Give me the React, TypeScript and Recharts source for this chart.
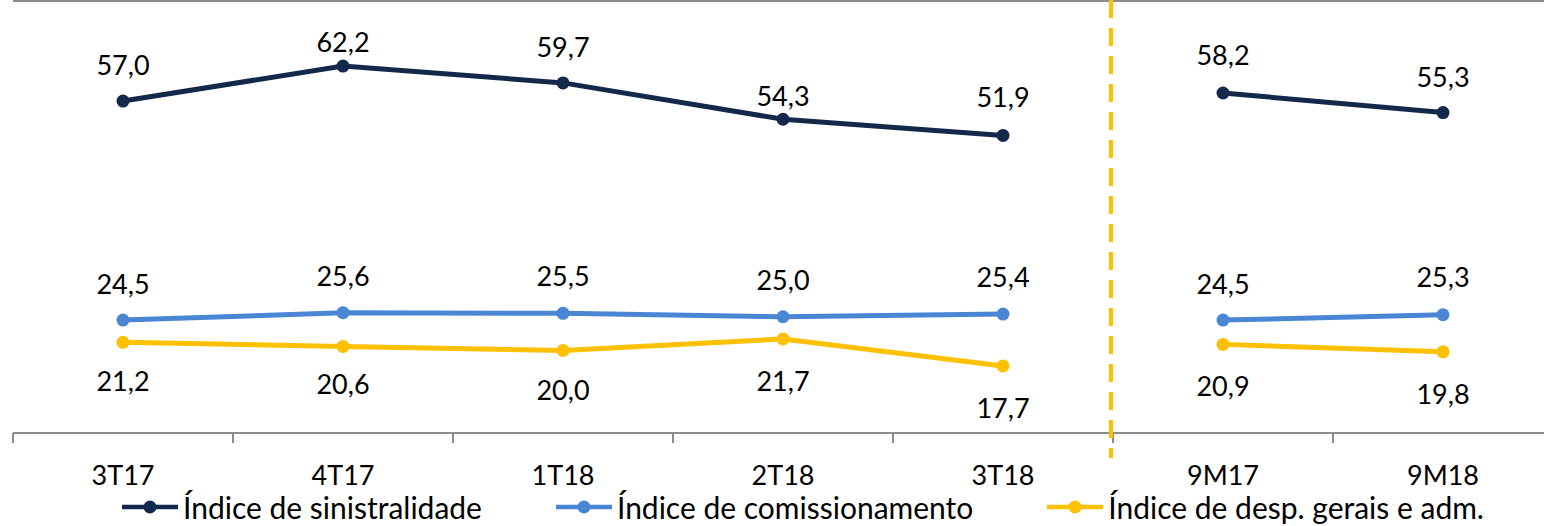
import React from "react";
import { LineChart, Line, XAxis, YAxis, LabelList, Legend, ReferenceLine } from "recharts";

const periods = ["3T17", "4T17", "1T18", "2T18", "3T18", "9M17", "9M18"];
const periodGroup = ["tri", "tri", "tri", "tri", "tri", "acum", "acum"];
const sinistralidade = [57.0, 62.2, 59.7, 54.3, 51.9, 58.2, 55.3];
const comissionamento = [24.5, 25.6, 25.5, 25.0, 25.4, 24.5, 25.3];
const despGerais = [21.2, 20.6, 20.0, 21.7, 17.7, 20.9, 19.8];

const Y_MIN = 7.75;
const Y_MAX = 71.85;
const FONT = "Lato, 'Open Sans', sans-serif";
const AXIS_GRAY = "#8c8c8c";
const BAND = 220;

const series = [
  {
    key: "sin",
    name: "Índice de sinistralidade",
    values: sinistralidade,
    color: "#13294b",
    // label baseline offset from the dot (negative = above)
    labelShift: [-26, -14, -26, -13, -28, -28, -26],
  },
  {
    key: "com",
    name: "Índice de comissionamento",
    values: comissionamento,
    color: "#4a86d4",
    labelShift: [-26, -27, -27, -27, -27, -26, -28],
  },
  {
    key: "desp",
    name: "Índice de desp. gerais e adm.",
    values: despGerais,
    color: "#ffc000",
    labelShift: [49, 48, 50, 52, 52, 52, 52],
  },
];

const data = periods.map((period, i) => {
  const row: Record<string, string | number | null> = { period };
  series.forEach((s) => {
    row[`${s.key}_tri`] = periodGroup[i] === "tri" ? s.values[i] : null;
    row[`${s.key}_acum`] = periodGroup[i] === "acum" ? s.values[i] : null;
  });
  return row;
});

const fmt = (v: number) => v.toFixed(1).replace(".", ",");

const makeLabel = (shift: number[]) => (props: any) => {
  const { value, index } = props;
  if (value == null) return null;
  const x = props.viewBox?.x ?? props.x;
  const y = props.viewBox?.y ?? props.y;
  if (x == null || y == null) return null;
  return (
    <text
      key={`lbl-${index}`}
      x={x}
      y={y + shift[index]}
      textAnchor="middle"
      fontFamily={FONT}
      fontSize={27}
      fill="#000"
    >
      {fmt(Number(value))}
    </text>
  );
};

const PeriodTick = (props: any) => {
  const { x, y, payload } = props;
  const left = x - BAND / 2;
  return (
    <g>
      <line x1={left} y1={y} x2={left} y2={y + 10} stroke={AXIS_GRAY} strokeWidth={2} />
      {payload.index === 5 && (
        <line
          x1={left - 2}
          y1={0}
          x2={left - 2}
          y2={y + 25}
          stroke="#ffc000"
          strokeWidth={4}
          strokeDasharray="18 10"
        />
      )}
      <text x={x} y={y + 52} textAnchor="middle" fontFamily={FONT} fontSize={27} fill="#000">
        {payload.value}
      </text>
    </g>
  );
};

const LegendContent = (props: any) => {
  const payload = (props.payload || []).filter((p: any) => p.type !== "none");
  const items = series.map(
    (s) => payload.find((p: any) => p.value === s.name) || { value: s.name, color: s.color }
  );
  return (
    <div
      style={{
        display: "flex",
        justifyContent: "center",
        gap: 74,
        paddingLeft: 62,
        fontFamily: FONT,
        fontSize: 30,
        lineHeight: "34px",
        color: "#000",
        whiteSpace: "nowrap",
      }}
    >
      {items.map((item: any) => (
        <div key={item.value} style={{ display: "flex", alignItems: "center" }}>
          <svg width={56} height={16} style={{ marginRight: 5 }}>
            <line x1={0} y1={8} x2={56} y2={8} stroke={item.color} strokeWidth={4.5} />
            <circle cx={28} cy={8} r={6.5} fill={item.color} />
          </svg>
          <span>{item.value}</span>
        </div>
      ))}
    </div>
  );
};

export default function App() {
  return (
    <div style={{ width: 1544, height: 526, overflow: "hidden", position: "relative", background: "#fff" }}>
      <style>{"body{margin:0}"}</style>
      <LineChart width={1560} height={526} data={data} margin={{ top: 1, right: 7, left: 13, bottom: 0 }}>
        <XAxis
          dataKey="period"
          scale="band"
          interval={0}
          height={93}
          axisLine={{ stroke: AXIS_GRAY, strokeWidth: 2 }}
          tickLine={false}
          tickSize={0}
          tickMargin={0}
          tick={<PeriodTick />}
        />
        <YAxis hide domain={[Y_MIN, Y_MAX]} allowDataOverflow />
        <ReferenceLine y={Y_MAX} stroke={AXIS_GRAY} strokeWidth={2} />
        {series.map((s) => [
          <Line
            key={`${s.key}_tri`}
            dataKey={`${s.key}_tri`}
            name={s.name}
            stroke={s.color}
            strokeWidth={5}
            dot={{ r: 6.5, fill: s.color, stroke: s.color, strokeWidth: 0 }}
            activeDot={false}
            isAnimationActive={false}
          >
            <LabelList dataKey={`${s.key}_tri`} content={makeLabel(s.labelShift)} />
          </Line>,
          <Line
            key={`${s.key}_acum`}
            dataKey={`${s.key}_acum`}
            name={s.name}
            legendType="none"
            stroke={s.color}
            strokeWidth={5}
            dot={{ r: 6.5, fill: s.color, stroke: s.color, strokeWidth: 0 }}
            activeDot={false}
            isAnimationActive={false}
          >
            <LabelList dataKey={`${s.key}_acum`} content={makeLabel(s.labelShift)} />
          </Line>,
        ])}
        <Legend
          layout="horizontal"
          verticalAlign="middle"
          align="center"
          content={<LegendContent />}
          wrapperStyle={{ top: 490, left: 0, width: 1544 }}
        />
      </LineChart>
    </div>
  );
}
